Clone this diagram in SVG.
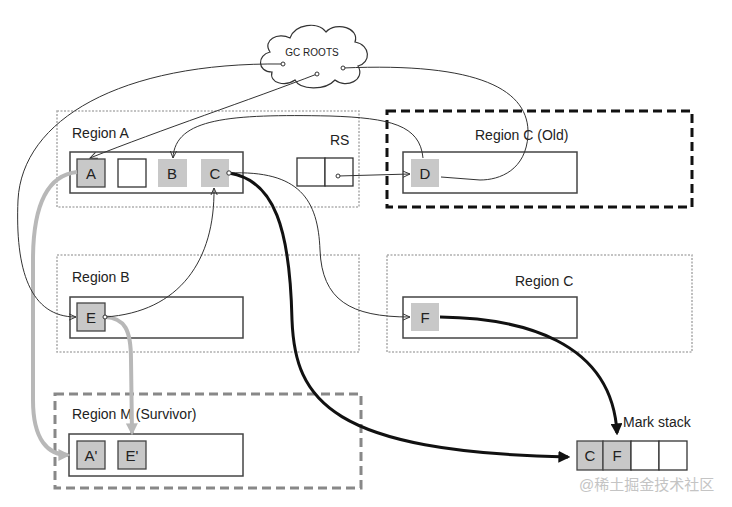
<svg xmlns="http://www.w3.org/2000/svg" width="732" height="507" viewBox="0 0 732 507">
<defs>
<style>
.lbl{font-family:"Liberation Sans","DejaVu Sans",sans-serif;font-size:14px;fill:#222}
.cl{font-family:"Liberation Sans","DejaVu Sans",sans-serif;font-size:15px;fill:#222;text-anchor:middle}
.reg{fill:none;stroke:#b0b0b0;stroke-width:1.6;stroke-dasharray:2 1.5}
.box{fill:#fff;stroke:#444;stroke-width:1.5}
.cell{fill:#c8c8c8;stroke:#444;stroke-width:1.3}
.celln{fill:#c8c8c8;stroke:none}
.cellw{fill:#fff;stroke:#333;stroke-width:1.3}
.thin{fill:none;stroke:#333;stroke-width:1}
.thick{fill:none;stroke:#111;stroke-width:3}
.gray{fill:none;stroke:#b8b8b8;stroke-width:4}
.dot{fill:#fff;stroke:#333;stroke-width:1}
</style>
<marker id="aThin" viewBox="0 0 10 10" refX="9" refY="5" markerWidth="8" markerHeight="8" markerUnits="userSpaceOnUse" orient="auto">
<path d="M0,1 L9,5 L0,9" fill="none" stroke="#333" stroke-width="1.2"/>
</marker>
<marker id="aThick" viewBox="0 0 10 10" refX="8" refY="5" markerWidth="12" markerHeight="12" markerUnits="userSpaceOnUse" orient="auto">
<path d="M0,0 L10,5 L0,10 Z" fill="#111"/>
</marker>
<marker id="aGray" viewBox="0 0 10 10" refX="8" refY="5" markerWidth="12" markerHeight="12" markerUnits="userSpaceOnUse" orient="auto">
<path d="M0,0 L10,5 L0,10 Z" fill="#b8b8b8"/>
</marker>
</defs>
<rect width="732" height="507" fill="#fff"/>

<g id="gcroots">
<path d="M272,72 C257,72 257,55 270,52 C262,40 278,32 290,38 C295,24 318,21 326,32 C336,21 360,28 355,42 C371,45 371,63 358,66 C366,80 346,89 335,80 C325,91 300,90 295,80 C285,87 269,83 272,72 Z" fill="#fff" stroke="#333" stroke-width="1.2"/>
<text x="312" y="56" font-family="Liberation Sans, DejaVu Sans, sans-serif" font-size="10" fill="#222" text-anchor="middle">GC ROOTS</text>
</g>

<g id="regionA">
<rect class="reg" x="57" y="111" width="302" height="96"/>
<text class="lbl" x="72" y="138">Region A</text>
<rect class="box" x="70" y="152" width="173" height="41"/>
</g>
<g id="nodeA"><rect class="cell" x="77" y="159" width="28" height="28"/><text class="cl" x="91" y="179">A</text></g>
<g id="nodeEmpty"><rect class="cellw" x="118" y="159" width="28" height="28"/></g>
<g id="nodeB"><rect class="celln" x="158" y="159" width="29" height="28"/><text class="cl" x="172" y="179">B</text></g>
<g id="nodeC"><rect class="celln" x="201" y="159" width="28" height="28"/><text class="cl" x="215" y="179">C</text></g>
<g id="rs">
<text class="lbl" x="330" y="145">RS</text>
<rect class="cellw" x="297" y="158" width="28" height="28"/>
<rect class="cellw" x="325" y="158" width="28" height="28"/>
</g>

<g id="regionCOld">
<rect x="387" y="111" width="305" height="96" fill="none" stroke="#111" stroke-width="3" stroke-dasharray="9 5"/>
<text class="lbl" x="475" y="140">Region C (Old)</text>
<rect class="box" x="403" y="152" width="174" height="41"/>
</g>
<g id="nodeD"><rect class="celln" x="411" y="159" width="28" height="28"/><text class="cl" x="425" y="179">D</text></g>

<g id="regionB">
<rect class="reg" x="57" y="255" width="302" height="97"/>
<text class="lbl" x="72" y="282">Region B</text>
<rect class="box" x="70" y="297" width="173" height="41"/>
</g>
<g id="nodeE"><rect class="cell" x="77" y="303" width="28" height="28"/><text class="cl" x="91" y="323">E</text></g>

<g id="regionC">
<rect class="reg" x="387" y="255" width="305" height="97"/>
<text class="lbl" x="515" y="286">Region C</text>
<rect class="box" x="403" y="297" width="174" height="41"/>
</g>
<g id="nodeF"><rect class="celln" x="411" y="303" width="28" height="28"/><text class="cl" x="425" y="323">F</text></g>

<g id="regionM">
<rect x="55" y="394" width="306" height="94" fill="none" stroke="#888" stroke-width="3" stroke-dasharray="9 5"/>
<text class="lbl" x="72" y="419">Region M (Survivor)</text>
<rect class="box" x="69" y="434" width="174" height="42"/>
</g>
<g id="nodeA2"><rect class="cell" x="77" y="441" width="28" height="28"/><text class="cl" x="91" y="461">A'</text></g>
<g id="nodeE2"><rect class="cell" x="118" y="441" width="28" height="28"/><text class="cl" x="132" y="461">E'</text></g>

<g id="markstack">
<text class="lbl" x="623" y="427">Mark stack</text>
<rect class="cell" x="577" y="441" width="26" height="29"/><text class="cl" x="590" y="461">C</text>
<rect class="cell" x="603" y="441" width="28" height="29"/><text class="cl" x="617" y="461">F</text>
<rect class="cellw" x="631" y="441" width="28" height="29"/>
<rect class="cellw" x="659" y="441" width="28" height="29"/>
</g>

<g id="connectors">
<path class="gray" d="M77,172 C50,175 33,200 33,260 L33,400 C33,440 48,455 68,455" marker-end="url(#aGray)"/>
<path class="gray" d="M105,317 C125,318 131,330 131,360 L132,433" marker-end="url(#aGray)"/>
<path class="thin" d="M283,64 C120,62 22,120 18,200 C15,270 30,317 76,317" marker-end="url(#aThin)"/>
<path class="thin" d="M317,74 C250,100 160,130 90,158" marker-end="url(#aThin)"/>
<path class="thin" d="M343,68 C480,62 530,90 528,135 C526,170 500,180 480,180 L441,177"/>
<path class="thin" d="M423,158 C420,125 390,118 330,116 C230,114 175,118 173,158" marker-end="url(#aThin)"/>
<path class="thin" d="M338,176 L410,174" marker-end="url(#aThin)"/>
<path class="thin" d="M105,317 C180,312 215,260 214,188" marker-end="url(#aThin)"/>
<path class="thin" d="M229,173 C300,170 318,200 320,250 C322,300 350,317 410,317" marker-end="url(#aThin)"/>
<path class="thick" d="M229,173 C275,180 290,230 292,320 C295,400 330,452 568,457" marker-end="url(#aThick)"/>
<path class="thick" d="M440,317 C520,318 612,340 617,433" marker-end="url(#aThick)"/>
<circle class="dot" cx="283" cy="64" r="2"/>
<circle class="dot" cx="317" cy="74" r="2"/>
<circle class="dot" cx="343" cy="68" r="2"/>
<circle class="dot" cx="338" cy="176" r="2"/>
<circle class="dot" cx="229" cy="173" r="2.2"/>
<circle class="dot" cx="105" cy="317" r="2"/>
</g>

<text x="579" y="490" font-family="Liberation Sans, Noto Sans CJK SC, sans-serif" font-size="15" fill="#c4c4c4">@稀土掘金技术社区</text>
</svg>
